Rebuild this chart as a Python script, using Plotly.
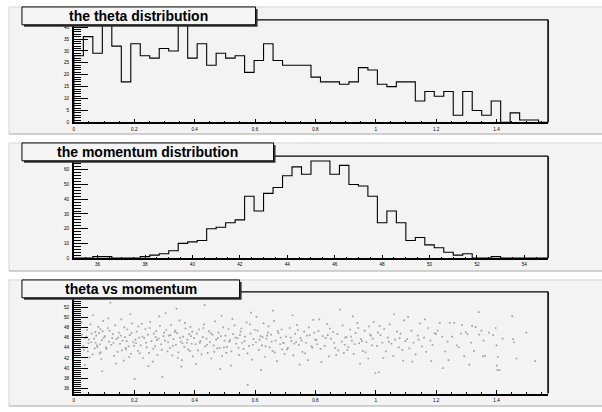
import numpy as np
import plotly.graph_objects as go

W, H = 602, 412

# ---------------- data ----------------
titles = ["the theta distribution", "the momentum distribution", "theta vs momentum"]

theta_lo, theta_hi = 0.0, np.pi / 2
theta_counts = [28, 36, 29, 41, 32, 17, 33, 28, 27, 31,
                30, 41, 27, 33, 24, 29, 27, 28, 21, 26,
                33, 26, 24, 24, 24, 19, 17, 17, 16, 17,
                23, 22, 16, 15, 17, 17, 9, 13, 11, 13,
                3, 13, 5, 3, 9, 0, 4, 1, 1, 0]

mom_lo, mom_hi = 35.0, 55.0
momentum_counts = [0, 0, 1, 1, 0, 0, 0, 1, 2, 3,
                   5, 10, 11, 12, 20, 21, 24, 26, 42, 32,
                   44, 48, 56, 62, 57, 66, 66, 57, 63, 50,
                   49, 42, 24, 32, 24, 12, 14, 9, 7, 4,
                   2, 3, 0, 0, 1, 0, 0, 0, 0, 0]

# y tick labels of the scatter pad (the 54 label sits behind the title box)
scatter_y_ticks = [36, 38, 40, 42, 44, 46, 48, 50, 52, 54]
scatter_y_labels = ["36", "38", "40", "42", "44", "46", "48", "50", "52", ""]

theta_vs_momentum = [
    (0.012,45.3),(0.021,47.8),(0.034,43.6),(0.041,46.2),(0.048,44.9),(0.055,48.6),(0.062,42.7),(0.067,45.8),
    (0.071,47.1),(0.078,44.2),(0.083,46.9),(0.089,43.1),(0.093,45.5),(0.097,49.3),(0.015,41.2),(0.027,46.6),
    (0.031,44.4),(0.044,47.5),(0.052,42.1),(0.058,45.1),(0.064,50.4),(0.069,43.9),(0.074,46.4),(0.081,48.1),
    (0.086,44.7),(0.091,41.8),(0.095,47.3),(0.018,44.0),(0.038,45.9),(0.046,43.3),(0.059,46.8),(0.072,45.0),
    (0.085,42.9),(0.099,46.0),(0.025,49.0),(0.036,40.6),(0.050,45.6),(0.076,44.5),(0.088,47.7),(0.094,39.4),
    (0.103,46.3),(0.108,43.8),(0.112,47.9),(0.116,45.2),(0.121,52.9),(0.124,44.6),(0.129,46.7),(0.133,42.4),
    (0.137,48.4),(0.141,45.7),(0.145,43.2),(0.149,47.0),(0.153,44.8),(0.157,49.6),(0.161,45.4),(0.165,41.5),
    (0.169,46.1),(0.173,43.7),(0.177,47.6),(0.181,44.3),(0.185,46.5),(0.189,42.8),(0.193,48.8),(0.197,45.1),
    (0.106,44.1),(0.118,47.4),(0.127,45.9),(0.139,40.9),(0.147,46.0),(0.159,43.5),(0.167,48.0),(0.175,45.3),
    (0.183,42.2),(0.191,46.9),(0.199,44.4),(0.114,49.8),(0.131,45.0),(0.155,46.4),(0.171,44.0),(0.187,50.6),
    (0.201,37.9),(0.204,45.6),(0.208,47.2),(0.212,43.4),(0.216,46.0),(0.221,44.5),(0.225,48.7),(0.229,42.0),
    (0.233,45.9),(0.237,47.7),(0.241,44.1),(0.245,46.6),(0.249,43.0),(0.253,49.1),(0.257,45.3),(0.261,41.3),
    (0.265,46.8),(0.269,44.3),(0.273,47.3),(0.277,42.6),(0.281,45.8),(0.285,48.3),(0.289,44.7),(0.293,38.3),
    (0.297,46.3),(0.206,44.9),(0.218,42.9),(0.227,46.2),(0.239,45.0),(0.251,47.9),(0.263,43.8),(0.275,45.5),
    (0.283,50.2),(0.291,43.6),(0.299,47.0),(0.214,48.2),(0.247,40.4),(0.271,46.1),
    (0.302,45.4),(0.306,47.5),(0.310,43.3),(0.314,46.4),(0.318,44.0),(0.322,48.5),(0.326,42.5),(0.330,45.7),
    (0.334,47.1),(0.338,44.6),(0.342,46.9),(0.346,43.1),(0.350,49.4),(0.354,45.2),(0.358,41.6),(0.362,46.2),
    (0.366,44.2),(0.370,47.8),(0.374,45.0),(0.378,43.7),(0.382,46.7),(0.386,48.1),(0.390,44.8),(0.394,42.3),
    (0.398,45.9),(0.304,50.8),(0.312,45.1),(0.320,46.5),(0.328,44.4),(0.336,47.4),(0.344,42.0),(0.352,46.0),
    (0.360,44.9),(0.368,48.9),(0.376,45.6),(0.384,43.4),(0.392,47.2),(0.340,51.7),(0.356,40.3),(0.388,46.3),
    (0.403,44.7),(0.407,46.8),(0.411,43.5),(0.415,47.6),(0.419,45.3),(0.423,42.7),(0.427,46.1),(0.431,48.6),
    (0.435,44.3),(0.439,45.8),(0.443,43.0),(0.447,47.3),(0.451,45.1),(0.455,41.9),(0.459,46.6),(0.463,44.5),
    (0.467,49.2),(0.471,45.6),(0.475,43.9),(0.479,47.0),(0.483,44.0),(0.487,46.3),(0.491,42.4),(0.495,48.0),
    (0.499,45.4),(0.405,40.8),(0.417,45.0),(0.429,47.9),(0.441,44.6),(0.453,46.9),(0.465,43.2),(0.477,45.9),
    (0.489,50.3),(0.497,44.1),(0.433,52.4),(0.485,39.8),
    (0.502,46.4),(0.507,44.2),(0.512,47.7),(0.517,45.5),(0.522,43.3),(0.527,46.7),(0.532,48.4),(0.537,44.8),
    (0.542,45.9),(0.547,42.6),(0.552,47.2),(0.557,45.0),(0.562,43.8),(0.567,46.2),(0.572,49.0),(0.576,36.7),
    (0.580,44.4),(0.585,46.8),(0.590,41.7),(0.595,45.7),(0.599,47.5),(0.505,43.0),(0.515,45.2),(0.525,49.7),
    (0.535,46.0),(0.545,44.0),(0.555,47.8),(0.565,45.3),(0.575,42.9),(0.583,48.6),(0.593,44.6),(0.520,40.5),
    (0.550,46.5),(0.587,50.9),
    (0.603,45.1),(0.608,47.4),(0.613,43.6),(0.618,46.3),(0.623,44.5),(0.628,48.8),(0.633,42.2),(0.638,45.8),
    (0.643,47.0),(0.648,44.1),(0.653,46.6),(0.658,43.4),(0.663,49.3),(0.668,45.4),(0.673,41.4),(0.678,46.9),
    (0.683,44.7),(0.688,47.6),(0.693,45.0),(0.698,42.8),(0.605,50.1),(0.615,45.6),(0.625,46.1),(0.635,44.3),
    (0.645,48.2),(0.655,45.2),(0.665,43.1),(0.675,47.3),(0.685,46.0),(0.695,44.9),(0.620,39.6),(0.640,46.4),
    (0.660,51.3),(0.690,43.7),
    (0.703,46.2),(0.709,44.0),(0.715,47.9),(0.721,45.3),(0.727,42.5),(0.733,46.8),(0.739,48.5),(0.745,44.6),
    (0.751,45.9),(0.757,43.2),(0.763,47.2),(0.769,45.0),(0.775,41.6),(0.781,46.5),(0.787,44.3),(0.793,49.5),
    (0.799,45.6),(0.706,43.7),(0.718,46.0),(0.730,44.8),(0.742,47.5),(0.754,45.4),(0.766,42.9),(0.778,48.0),
    (0.790,44.1),(0.724,50.4),(0.748,40.7),(0.772,46.4),(0.796,47.0),(0.736,45.1),
    (0.803,45.5),(0.810,47.3),(0.817,43.8),(0.824,46.3),(0.831,44.4),(0.838,48.7),(0.845,42.3),(0.852,45.8),
    (0.859,47.1),(0.866,44.0),(0.873,46.7),(0.881,51.5),(0.887,45.2),(0.894,43.0),(0.899,46.0),(0.806,44.7),
    (0.820,41.2),(0.834,45.9),(0.848,47.8),(0.862,45.0),(0.876,43.5),(0.890,48.4),(0.813,49.6),(0.841,46.5),
    (0.869,42.6),(0.897,44.6),
    (0.903,46.1),(0.909,44.2),(0.915,47.6),(0.921,45.4),(0.927,42.8),(0.933,46.9),(0.939,48.9),(0.945,44.9),
    (0.951,45.7),(0.957,43.4),(0.963,47.4),(0.969,45.1),(0.975,41.9),(0.981,46.6),(0.987,44.5),(0.993,49.1),
    (0.999,39.0),(0.906,43.6),(0.918,46.2),(0.930,44.7),(0.942,47.9),(0.954,45.3),(0.966,43.1),(0.978,48.2),
    (0.990,45.8),(0.924,50.2),(0.948,40.9),(0.984,46.4),
    (1.004,44.4),(1.010,39.2),(1.016,46.5),(1.022,45.0),(1.028,47.7),(1.034,43.3),(1.040,46.0),(1.046,48.6),
    (1.052,44.8),(1.058,42.4),(1.064,45.6),(1.070,47.2),(1.076,44.1),(1.082,46.8),(1.088,43.6),(1.094,49.4),
    (1.098,45.3),(1.007,47.0),(1.025,42.0),(1.043,45.2),(1.061,50.6),(1.079,45.9),(1.091,41.5),(1.013,48.3),
    (1.104,45.7),(1.111,43.9),(1.118,47.4),(1.125,45.0),(1.132,42.7),(1.139,46.4),(1.146,48.8),(1.153,44.3),
    (1.160,46.0),(1.167,43.2),(1.174,47.9),(1.181,45.4),(1.188,44.6),(1.195,46.9),(1.107,50.1),(1.121,41.3),
    (1.142,45.6),(1.163,49.6),(1.184,41.4),(1.199,46.7),
    (1.205,47.4),(1.212,48.9),(1.220,46.2),(1.222,40.0),(1.230,43.3),(1.238,45.2),(1.245,48.9),(1.253,46.2),
    (1.260,48.9),(1.268,44.5),(1.275,44.1),(1.282,46.8),(1.286,48.5),(1.293,42.3),(1.298,47.1),(1.241,41.6),
    (1.304,46.7),(1.310,40.7),(1.316,45.0),(1.319,48.3),(1.325,43.4),(1.331,48.1),(1.341,51.0),(1.343,46.6),
    (1.350,47.4),(1.355,42.3),(1.357,45.4),(1.362,42.4),(1.375,47.0),(1.389,46.5),(1.397,47.9),
    (1.400,44.5),(1.401,40.5),(1.403,39.6),(1.410,39.6),(1.404,42.2),(1.420,45.8),(1.452,50.2),(1.455,45.7),
    (1.458,45.1),(1.466,41.9),(1.499,47.0),(1.528,41.4),
]
scatter_theta = [p[0] for p in theta_vs_momentum]
scatter_mom = [p[1] for p in theta_vs_momentum]


def step_outline(counts, lo, hi):
    n = len(counts)
    edges = np.linspace(lo, hi, n + 1)
    xs, ys = [lo], [0]
    for i, c in enumerate(counts):
        xs += [edges[i], edges[i + 1]]
        ys += [c, c]
    xs.append(hi)
    ys.append(0)
    return xs, ys


# ---------------- layout geometry (pixels) ----------------
def px(X):
    return X / W


def py(Y):
    return 1 - Y / H


FX0, FX1 = 73, 548
frames = [(20, 123.3), (157.3, 260), (294, 396.5)]
pads = [(7, 135), (144, 273), (282, 409)]
title_boxes = [(21, 255, 7, 25), (21, 273, 144, 162), (21, 239, 282, 300)]
PAD_X0 = 8

fig = go.Figure()

tx, ty = step_outline(theta_counts, theta_lo, theta_hi)
fig.add_trace(go.Scatter(x=tx, y=ty, mode="lines", line=dict(color="black", width=1.1),
                         xaxis="x", yaxis="y", hoverinfo="skip"))
mx, my = step_outline(momentum_counts, mom_lo, mom_hi)
fig.add_trace(go.Scatter(x=mx, y=my, mode="lines", line=dict(color="black", width=1.1),
                         xaxis="x2", yaxis="y2", hoverinfo="skip"))
fig.add_trace(go.Scatter(x=scatter_theta, y=scatter_mom, mode="markers",
                         marker=dict(color="#a2a2a2", size=1.7, symbol="square", line=dict(width=0)),
                         xaxis="x3", yaxis="y3", hoverinfo="skip"))

tickfont = dict(family="Liberation Sans", size=4.6, color="black")


def xax(rng, dtick, tick0, mdtick, anchor):
    return dict(domain=[px(FX0), px(FX1)], range=rng, anchor=anchor, dtick=dtick, tick0=tick0,
                showline=True, linecolor="black", linewidth=1.6, ticks="inside", ticklen=3.5,
                tickwidth=1, tickcolor="black",
                minor=dict(ticks="inside", ticklen=1.8, dtick=mdtick, tickcolor="black", tickwidth=1),
                tickfont=tickfont, showgrid=False, zeroline=False, fixedrange=True,
                ticklabelstandoff=1)


def yax(rng, dtick, tick0, mdtick, frame, anchor):
    return dict(domain=[py(frame[1]), py(frame[0])], range=rng, anchor=anchor, dtick=dtick, tick0=tick0,
                showline=True, linecolor="black", linewidth=1.6, ticks="inside", ticklen=14,
                tickwidth=1, tickcolor="black",
                minor=dict(ticks="inside", ticklen=7, dtick=mdtick, tickcolor="black", tickwidth=1),
                tickfont=tickfont, showgrid=False, zeroline=False, fixedrange=True,
                ticklabelstandoff=2)


y3 = yax([mom_lo, mom_hi], 2, 36, 0.4, frames[2], "x3")
y3.update(tickmode="array", tickvals=scatter_y_ticks, ticktext=scatter_y_labels)
y3["minor"].update(tickmode="linear", tick0=35.2, dtick=0.4)

layout = dict(
    width=W, height=H, margin=dict(l=0, r=0, t=0, b=0),
    paper_bgcolor="white", plot_bgcolor="rgba(0,0,0,0)", showlegend=False,
    xaxis=xax([theta_lo, theta_hi], 0.2, 0, 0.05, "y"),
    yaxis=yax([0, max(theta_counts) * 1.05], 5, 0, 1, frames[0], "x"),
    xaxis2=xax([mom_lo, mom_hi], 2, 36, 0.5, "y2"),
    yaxis2=yax([0, max(momentum_counts) * 1.05], 10, 0, 2, frames[1], "x2"),
    xaxis3=xax([theta_lo, theta_hi], 0.2, 0, 0.05, "y3"),
    yaxis3=y3,
)
fig.update_layout(**layout)

shapes = []
annotations = []
for (pt, pb), (ft, fb), (bx0, bx1, by0, by1), title in zip(pads, frames, title_boxes, titles):
    # pad background
    shapes.append(dict(type="rect", xref="paper", yref="paper", x0=px(PAD_X0), x1=1, y0=py(pb), y1=py(pt),
                       fillcolor="#f3f3f3", line=dict(width=0), layer="below"))
    # pad border: light top/left, dark bottom
    shapes.append(dict(type="line", xref="paper", yref="paper", x0=px(PAD_X0), x1=1, y0=py(pt), y1=py(pt),
                       line=dict(color="#d4d4d4", width=1), layer="below"))
    shapes.append(dict(type="line", xref="paper", yref="paper", x0=px(PAD_X0), x1=px(PAD_X0), y0=py(pb), y1=py(pt),
                       line=dict(color="#d4d4d4", width=1), layer="below"))
    shapes.append(dict(type="line", xref="paper", yref="paper", x0=px(PAD_X0), x1=1, y0=py(pb), y1=py(pb),
                       line=dict(color="#a8a8a8", width=1.2), layer="below"))
    # frame top and right
    shapes.append(dict(type="line", xref="paper", yref="paper", x0=px(FX0), x1=px(FX1), y0=py(ft), y1=py(ft),
                       line=dict(color="black", width=1.4), layer="above"))
    shapes.append(dict(type="line", xref="paper", yref="paper", x0=px(FX1), x1=px(FX1), y0=py(fb), y1=py(ft),
                       line=dict(color="black", width=1.6), layer="above"))
    # title box shadow + box
    shapes.append(dict(type="rect", xref="paper", yref="paper", x0=px(bx0 + 2), x1=px(bx1 + 2),
                       y0=py(by1 + 2), y1=py(by0 + 2), fillcolor="#333333", line=dict(width=0), layer="above"))
    shapes.append(dict(type="rect", xref="paper", yref="paper", x0=px(bx0), x1=px(bx1),
                       y0=py(by1), y1=py(by0), fillcolor="#f5f5f5", line=dict(color="black", width=1),
                       layer="above"))
    annotations.append(dict(xref="paper", yref="paper", x=px((bx0 + bx1) / 2), y=py((by0 + by1) / 2 + 0.5),
                            text="<b>%s</b>" % title, showarrow=False, xanchor="center", yanchor="middle",
                            font=dict(family="Liberation Sans", size=14, color="black")))

fig.update_layout(shapes=shapes, annotations=annotations)
fig.write_html("out.html")
